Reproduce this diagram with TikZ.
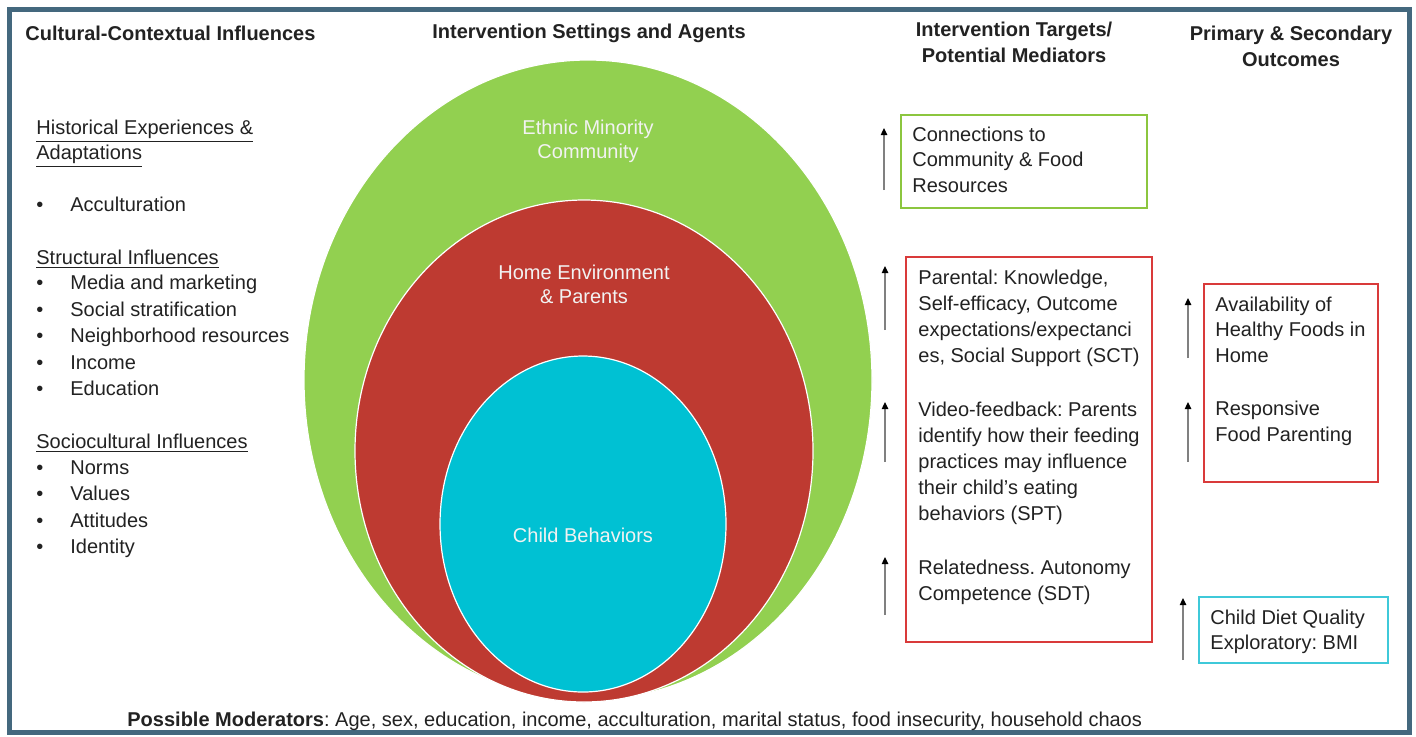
\documentclass[tikz,border=0pt]{standalone}
\usepackage{fontspec}
\setmainfont{Liberation Sans}
\usetikzlibrary{shapes.geometric,arrows.meta}
\definecolor{frame}{HTML}{44687E}
\definecolor{cgreen}{HTML}{92D050}
\definecolor{cred}{HTML}{BE3A31}
\definecolor{ccyan}{HTML}{00C1D3}
\definecolor{bgreen}{HTML}{8CC63F}
\definecolor{bred}{HTML}{D93A3A}
\definecolor{bcyan}{HTML}{3FC9D9}
\definecolor{ink}{HTML}{222222}
\frenchspacing
\begin{document}
\begin{tikzpicture}[x=0.5pt,y=-0.5pt,
 txt/.style={anchor=west,inner sep=0pt,text height=6pt,text depth=0pt,font=\fontsize{10}{12}\selectfont,text=ink},
 hdr/.style={anchor=center,inner sep=0pt,text height=6pt,text depth=0pt,font=\bfseries\fontsize{10}{12}\selectfont,text=ink},
 lbl/.style={anchor=center,inner sep=0pt,text height=6pt,text depth=0pt,font=\fontsize{10}{12}\selectfont,text=white!90!gray},
 zone/.style={ellipse,inner sep=0pt,draw=white,line width=0.6pt},
 tbox/.style={rectangle,inner sep=0pt,line width=1pt,anchor=north west},
 up/.style={draw=gray,line width=0.6pt,-{Triangle[length=3.5pt,width=3.2pt,color=black]}}
]
\useasboundingbox (0,0) rectangle (1416,736);
\fill[white] (0,0) rectangle (1416,736);
\draw[frame, line width=2.5pt] (9.5,9.5) rectangle (1409.5,732.5);

% headers
\node[hdr,anchor=west] (h1) at (25,34) {Cultural-Contextual Influences};
\node[hdr] (h2) at (589,32) {Intervention Settings and Agents};
\node[hdr] (h3a) at (1014,30) {Intervention Targets/};
\node[hdr] (h3b) at (1014,56) {Potential Mediators};
\node[hdr] (h4a) at (1291,34) {Primary \& Secondary};
\node[hdr] (h4b) at (1291,60) {Outcomes};

% left column
\node[txt] (l1) at (36,128) {\underline{Historical Experiences \&}};
\node[txt] (l2) at (36,153) {\underline{Adaptations}};
\node[txt] (l3) at (36,258) {\underline{Structural Influences}};
\node[txt] (l4) at (36,442) {\underline{Sociocultural Influences}};
\foreach \y/\t in {205/Acculturation,283/Media and marketing,310/Social stratification,336/Neighborhood resources,363/Income,389/Education,468/Norms,494/Values,521/Attitudes,547/Identity}{
  \node[txt] (bu\y) at (36,\y) {\textbullet};
  \node[txt] (it\y) at (70,\y) {\t};
}

% nested settings
\node[zone,fill=cgreen,minimum width=284pt,minimum height=320pt] (eth) at (588,380) {};
\node[zone,fill=cred,minimum width=229pt,minimum height=251pt] (home) at (584,451) {};
\node[zone,fill=ccyan,minimum width=143pt,minimum height=168pt] (child) at (583,524) {};
\node[lbl] (e1) at (588,128) {Ethnic Minority};
\node[lbl] (e2) at (588,152) {Community};
\node[lbl] (h1l) at (584,273) {Home Environment};
\node[lbl] (h2l) at (584,297) {\& Parents};
\node[lbl] (c1) at (583,536) {Child Behaviors};

% mediator boxes
\node[tbox,draw=bgreen,minimum width=123pt,minimum height=46.5pt] (gbox) at (900,114) {};
\node[tbox,draw=bred,minimum width=123pt,minimum height=192.5pt] (rbox) at (905,256) {};
\node[tbox,draw=bred,minimum width=87pt,minimum height=99pt] (obox) at (1203,283) {};
\node[tbox,draw=bcyan,minimum width=94.5pt,minimum height=33pt] (cbox) at (1198,596) {};

\foreach \y/\t in {135/Connections to,160/Community \& Food,186/Resources}{
  \node[txt] (g\y) at (912,\y) {\t};
}
\foreach \y/\t in {278/{Parental: Knowledge,},304/{Self-efficacy, Outcome},330/{expectations/expectanci},356/{es, Social Support (SCT)},410/Video-feedback: Parents,436/identify how their feeding,462/practices may influence,488/their child's eating,514/behaviors (SPT),568/Relatedness. Autonomy,594/Competence (SDT)}{
  \node[txt] (r\y) at (918,\y) {\t};
}
\foreach \y/\t in {305/Availability of,330/Healthy Foods in,356/Home,409/Responsive,435/Food Parenting}{
  \node[txt] (o\y) at (1215,\y) {\t};
}
\node[txt] (c618) at (1210,618) {Child Diet Quality};
\node[txt] (c643) at (1210,643) {Exploratory: BMI};

% arrows
\foreach \n/\x/\a/\b in {1/884/190/128,2/885/330/266,3/885/462/402,4/885/615/557,5/1188/358/298,6/1188/462/402,7/1183/660/598}{
  \coordinate (s\n) at (\x,\a);
  \coordinate (t\n) at (\x,\b);
  \draw[up] (s\n) -- (t\n);
}

% moderators
\node[txt] (mod) at (127,720) {\textbf{Possible Moderators}: Age, sex, education, income, acculturation, marital status, food insecurity, household chaos};
\end{tikzpicture}
\end{document}
